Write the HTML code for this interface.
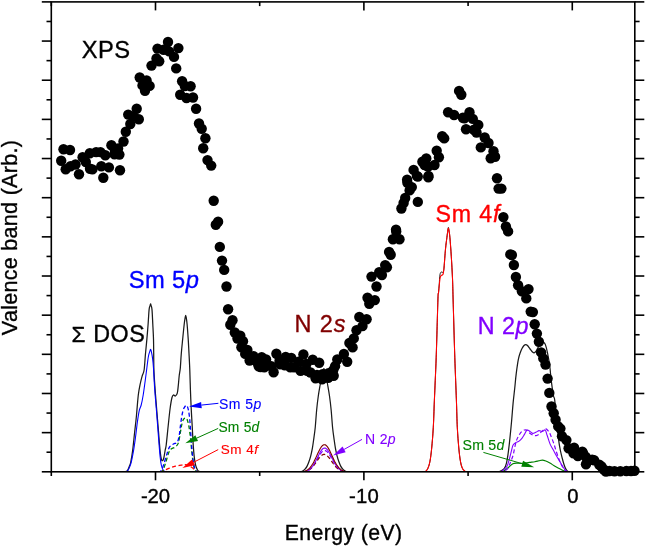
<!DOCTYPE html>
<html><head><meta charset="utf-8"><title>XPS valence band</title>
<style>html,body{margin:0;padding:0;background:#fff;}svg{display:block;will-change:transform;font-family:"Liberation Sans",sans-serif;}</style>
</head><body>
<svg width="645" height="547" viewBox="0 0 645 547" font-family="'Liberation Sans', sans-serif">
<rect width="645" height="547" fill="#fff"/>
<clipPath id="cp"><rect x="0" y="0" width="645" height="471.3"/></clipPath>
<g clip-path="url(#cp)"><path d="M120.00,472.00 C120.67,471.98 122.92,472.02 124.00,471.90 C125.08,471.78 125.87,471.62 126.50,471.30 C127.13,470.98 127.33,470.80 127.80,470.00 C128.27,469.20 128.82,467.78 129.30,466.50 C129.78,465.22 130.15,464.92 130.70,462.30 C131.25,459.68 131.97,455.60 132.60,450.80 C133.23,446.00 133.87,439.27 134.50,433.50 C135.13,427.73 135.77,422.62 136.40,416.20 C137.03,409.78 137.65,400.45 138.30,395.00 C138.95,389.55 139.65,386.70 140.30,383.50 C140.95,380.30 141.57,378.05 142.20,375.80 C142.83,373.55 143.55,373.72 144.10,370.00 C144.65,366.28 145.03,358.68 145.50,353.50 C145.97,348.32 146.47,343.78 146.90,338.90 C147.33,334.02 147.73,329.08 148.10,324.20 C148.47,319.32 148.77,312.70 149.10,309.60 C149.43,306.50 149.85,306.57 150.10,305.60 C150.35,304.63 150.43,303.80 150.60,303.80 C150.77,303.80 150.87,304.63 151.10,305.60 C151.33,306.57 151.72,306.50 152.00,309.60 C152.28,312.70 152.55,319.32 152.80,324.20 C153.05,329.08 153.35,334.10 153.50,338.90 C153.65,343.70 153.63,347.82 153.70,353.00 C153.77,358.18 153.67,363.97 153.90,370.00 C154.13,376.03 154.65,382.78 155.10,389.20 C155.55,395.62 156.03,401.45 156.60,408.50 C157.17,415.55 157.92,424.45 158.50,431.50 C159.08,438.55 159.62,446.15 160.10,450.80 C160.58,455.45 160.98,457.77 161.40,459.40 C161.82,461.03 162.20,460.83 162.60,460.60 C163.00,460.37 163.37,459.77 163.80,458.00 C164.23,456.23 164.80,452.17 165.20,450.00 C165.60,447.83 165.70,449.03 166.20,445.00 C166.70,440.97 167.55,431.88 168.20,425.80 C168.85,419.72 169.47,413.22 170.10,408.50 C170.73,403.78 171.43,399.75 172.00,397.50 C172.57,395.25 172.93,395.25 173.50,395.00 C174.07,394.75 174.77,396.32 175.40,396.00 C176.03,395.68 176.82,394.87 177.30,393.10 C177.78,391.33 177.98,388.28 178.30,385.40 C178.62,382.52 178.87,378.68 179.20,375.80 C179.53,372.92 179.95,371.82 180.30,368.10 C180.65,364.38 180.90,358.37 181.30,353.50 C181.70,348.63 182.22,343.78 182.70,338.90 C183.18,334.02 183.78,327.78 184.20,324.20 C184.62,320.62 184.95,318.87 185.20,317.40 C185.45,315.93 185.53,315.40 185.70,315.40 C185.87,315.40 185.97,315.93 186.20,317.40 C186.43,318.87 186.77,320.62 187.10,324.20 C187.43,327.78 187.88,334.02 188.20,338.90 C188.52,343.78 188.73,348.32 189.00,353.50 C189.27,358.68 189.57,364.05 189.80,370.00 C190.03,375.95 190.17,382.78 190.40,389.20 C190.63,395.62 190.88,402.08 191.20,408.50 C191.52,414.92 191.98,421.93 192.30,427.70 C192.62,433.47 192.78,438.30 193.10,443.10 C193.42,447.90 193.78,452.82 194.20,456.50 C194.62,460.18 195.05,462.95 195.60,465.20 C196.15,467.45 196.87,468.95 197.50,470.00 C198.13,471.05 198.65,471.17 199.40,471.50 C200.15,471.83 200.90,471.92 202.00,472.00 C203.10,472.08 205.33,472.00 206.00,472.00" fill="none" stroke="#1a1a1a" stroke-width="1.25" stroke-linejoin="round"/><path d="M118.00,472.00 C119.00,471.98 122.58,472.00 124.00,471.90 C125.42,471.80 125.87,471.62 126.50,471.40 C127.13,471.18 127.10,471.80 127.80,470.60 C128.50,469.40 129.75,467.50 130.70,464.20 C131.65,460.90 132.70,455.28 133.50,450.80 C134.30,446.32 134.85,442.12 135.50,437.30 C136.15,432.48 136.77,426.38 137.40,421.90 C138.03,417.42 138.67,413.22 139.30,410.40 C139.93,407.58 140.55,407.57 141.20,405.00 C141.85,402.43 142.55,398.92 143.20,395.00 C143.85,391.08 144.53,385.67 145.10,381.50 C145.67,377.33 146.18,373.25 146.60,370.00 C147.02,366.75 147.27,364.42 147.60,362.00 C147.93,359.58 148.20,357.37 148.60,355.50 C149.00,353.63 149.67,351.85 150.00,350.80 C150.33,349.75 150.40,349.20 150.60,349.20 C150.80,349.20 150.88,349.35 151.20,350.80 C151.52,352.25 152.12,355.02 152.50,357.90 C152.88,360.78 153.13,362.88 153.50,368.10 C153.87,373.32 154.18,381.83 154.70,389.20 C155.22,396.57 155.97,404.28 156.60,412.30 C157.23,420.32 157.92,429.93 158.50,437.30 C159.08,444.67 159.62,451.80 160.10,456.50 C160.58,461.20 160.87,463.18 161.40,465.50 C161.93,467.82 162.65,469.40 163.30,470.40 C163.95,471.40 164.52,471.23 165.30,471.50 C166.08,471.77 166.88,471.92 168.00,472.00 C169.12,472.08 171.33,472.00 172.00,472.00" fill="none" stroke="#0000ff" stroke-width="1.1" stroke-linejoin="round"/><path d="M160.00,472.00 C160.63,471.77 162.20,471.25 163.80,470.60 C165.40,469.95 167.67,468.83 169.60,468.10 C171.53,467.37 173.47,466.68 175.40,466.20 C177.33,465.72 179.60,465.47 181.20,465.20 C182.80,464.93 183.73,464.57 185.00,464.60 C186.27,464.63 187.52,464.82 188.80,465.40 C190.08,465.98 191.42,467.13 192.70,468.10 C193.98,469.07 195.45,470.55 196.50,471.20 C197.55,471.85 198.58,471.87 199.00,472.00" fill="none" stroke="#ff0000" stroke-width="1.25" stroke-dasharray="4,2.5" stroke-linejoin="round"/><path d="M160.00,472.00 C160.48,471.75 161.93,472.12 162.90,470.50 C163.87,468.88 164.83,465.27 165.80,462.30 C166.77,459.33 167.75,454.95 168.70,452.70 C169.65,450.45 170.38,449.77 171.50,448.80 C172.62,447.83 174.27,447.85 175.40,446.90 C176.53,445.95 177.50,445.33 178.30,443.10 C179.10,440.87 179.67,436.38 180.20,433.50 C180.73,430.62 181.02,428.05 181.50,425.80 C181.98,423.55 182.52,421.28 183.10,420.00 C183.68,418.72 184.37,418.27 185.00,418.10 C185.63,417.93 186.27,417.72 186.90,419.00 C187.53,420.28 188.22,422.75 188.80,425.80 C189.38,428.85 189.92,433.13 190.40,437.30 C190.88,441.47 191.25,446.63 191.70,450.80 C192.15,454.97 192.62,459.27 193.10,462.30 C193.58,465.33 194.03,467.47 194.60,469.00 C195.17,470.53 195.77,471.00 196.50,471.50 C197.23,472.00 198.58,471.92 199.00,472.00" fill="none" stroke="#008000" stroke-width="1.3" stroke-dasharray="4,2.5" stroke-linejoin="round"/><path d="M158.00,472.00 C158.50,471.80 160.03,472.10 161.00,470.80 C161.97,469.50 162.85,466.90 163.80,464.20 C164.75,461.50 165.73,457.48 166.70,454.60 C167.67,451.72 168.47,448.67 169.60,446.90 C170.73,445.13 172.22,444.80 173.50,444.00 C174.78,443.20 176.35,443.53 177.30,442.10 C178.25,440.67 178.72,437.80 179.20,435.40 C179.68,433.00 179.82,430.58 180.20,427.70 C180.58,424.82 181.02,420.98 181.50,418.10 C181.98,415.22 182.52,412.33 183.10,410.40 C183.68,408.47 184.37,407.30 185.00,406.50 C185.63,405.70 186.32,404.95 186.90,405.60 C187.48,406.25 188.02,408.00 188.50,410.40 C188.98,412.80 189.42,416.15 189.80,420.00 C190.18,423.85 190.48,429.02 190.80,433.50 C191.12,437.98 191.32,442.42 191.70,446.90 C192.08,451.38 192.62,456.87 193.10,460.40 C193.58,463.93 194.03,466.28 194.60,468.10 C195.17,469.92 195.77,470.65 196.50,471.30 C197.23,471.95 198.58,471.88 199.00,472.00" fill="none" stroke="#0000ff" stroke-width="1.3" stroke-dasharray="4,2.5" stroke-linejoin="round"/><path d="M418.00,472.00 C418.83,471.98 421.75,472.00 423.00,471.90 C424.25,471.80 424.70,471.95 425.50,471.40 C426.30,470.85 427.07,470.22 427.80,468.60 C428.53,466.98 429.25,465.13 429.90,461.70 C430.55,458.27 431.13,453.72 431.70,448.00 C432.27,442.28 432.85,435.40 433.30,427.40 C433.75,419.40 433.92,411.63 434.40,400.00 C434.88,388.37 435.62,374.27 436.20,357.60 C436.78,340.93 437.52,310.77 437.90,300.00 C438.28,289.23 438.27,295.75 438.50,293.00 C438.73,290.25 439.10,286.25 439.30,283.50 C439.50,280.75 439.50,278.28 439.70,276.50 C439.90,274.72 440.18,273.55 440.50,272.80 C440.82,272.05 441.25,272.08 441.60,272.00 C441.95,271.92 442.32,272.13 442.60,272.30 C442.88,272.47 443.13,273.22 443.30,273.00 C443.47,272.78 443.47,272.00 443.60,271.00 C443.73,270.00 443.78,270.67 444.10,267.00 C444.42,263.33 445.03,253.92 445.50,249.00 C445.97,244.08 446.50,240.67 446.90,237.50 C447.30,234.33 447.65,231.68 447.90,230.00 C448.15,228.32 448.23,227.40 448.40,227.40 C448.57,227.40 448.65,228.32 448.90,230.00 C449.15,231.68 449.50,233.08 449.90,237.50 C450.30,241.92 450.87,249.67 451.30,256.50 C451.73,263.33 452.20,271.42 452.50,278.50 C452.80,285.58 452.72,285.82 453.10,299.00 C453.48,312.18 454.25,340.77 454.80,357.60 C455.35,374.43 455.98,388.37 456.40,400.00 C456.82,411.63 456.90,419.40 457.30,427.40 C457.70,435.40 458.27,442.28 458.80,448.00 C459.33,453.72 459.88,458.27 460.50,461.70 C461.12,465.13 461.70,466.98 462.50,468.60 C463.30,470.22 464.38,470.85 465.30,471.40 C466.22,471.95 466.72,471.80 468.00,471.90 C469.28,472.00 472.17,471.98 473.00,472.00" fill="none" stroke="#1a1a1a" stroke-width="1.0" stroke-linejoin="round"/><path d="M418.00,472.00 C418.83,471.98 421.75,472.00 423.00,471.90 C424.25,471.80 424.70,471.95 425.50,471.40 C426.30,470.85 427.07,470.22 427.80,468.60 C428.53,466.98 429.25,465.13 429.90,461.70 C430.55,458.27 431.13,453.72 431.70,448.00 C432.27,442.28 432.85,435.40 433.30,427.40 C433.75,419.40 433.92,411.63 434.40,400.00 C434.88,388.37 435.62,374.27 436.20,357.60 C436.78,340.93 437.52,310.77 437.90,300.00 C438.28,289.23 438.25,295.67 438.50,293.00 C438.75,290.33 439.13,286.53 439.40,284.00 C439.67,281.47 439.83,279.18 440.10,277.80 C440.37,276.42 440.63,276.17 441.00,275.70 C441.37,275.23 441.95,275.28 442.30,275.00 C442.65,274.72 442.88,274.67 443.10,274.00 C443.32,273.33 443.43,272.17 443.60,271.00 C443.77,269.83 443.78,270.67 444.10,267.00 C444.42,263.33 445.03,253.92 445.50,249.00 C445.97,244.08 446.50,240.67 446.90,237.50 C447.30,234.33 447.65,231.58 447.90,230.00 C448.15,228.42 448.23,228.00 448.40,228.00 C448.57,228.00 448.65,228.42 448.90,230.00 C449.15,231.58 449.50,233.08 449.90,237.50 C450.30,241.92 450.87,249.67 451.30,256.50 C451.73,263.33 452.20,271.42 452.50,278.50 C452.80,285.58 452.72,285.82 453.10,299.00 C453.48,312.18 454.25,340.77 454.80,357.60 C455.35,374.43 455.98,388.37 456.40,400.00 C456.82,411.63 456.90,419.40 457.30,427.40 C457.70,435.40 458.27,442.28 458.80,448.00 C459.33,453.72 459.88,458.27 460.50,461.70 C461.12,465.13 461.70,466.98 462.50,468.60 C463.30,470.22 464.38,470.85 465.30,471.40 C466.22,471.95 466.72,471.80 468.00,471.90 C469.28,472.00 472.17,471.98 473.00,472.00" fill="none" stroke="#ff0000" stroke-width="1.1" stroke-linejoin="round"/><path d="M298.90,472.00 C299.32,471.93 300.70,471.80 301.40,471.60 C302.10,471.40 302.50,471.20 303.10,470.80 C303.70,470.40 304.33,469.98 305.00,469.20 C305.67,468.42 306.45,467.33 307.10,466.10 C307.75,464.87 308.28,463.55 308.90,461.80 C309.52,460.05 310.22,457.88 310.80,455.60 C311.38,453.32 311.93,450.70 312.40,448.10 C312.87,445.50 313.13,443.40 313.60,440.00 C314.07,436.60 314.69,432.70 315.20,427.70 C315.71,422.70 316.13,415.28 316.65,410.00 C317.17,404.72 317.69,400.33 318.30,396.00 C318.91,391.67 319.67,387.67 320.30,384.00 C320.93,380.33 321.50,376.58 322.10,374.00 C322.70,371.42 323.30,368.50 323.90,368.50 C324.50,368.50 325.10,371.42 325.70,374.00 C326.30,376.58 326.87,380.33 327.50,384.00 C328.13,387.67 328.89,391.67 329.50,396.00 C330.11,400.33 330.63,404.72 331.15,410.00 C331.67,415.28 332.09,422.70 332.60,427.70 C333.11,432.70 333.73,436.60 334.20,440.00 C334.67,443.40 334.93,445.50 335.40,448.10 C335.87,450.70 336.42,453.32 337.00,455.60 C337.58,457.88 338.28,460.05 338.90,461.80 C339.52,463.55 340.05,464.87 340.70,466.10 C341.35,467.33 342.13,468.42 342.80,469.20 C343.47,469.98 344.10,470.40 344.70,470.80 C345.30,471.20 345.70,471.40 346.40,471.60 C347.10,471.80 348.48,471.93 348.90,472.00" fill="none" stroke="#1a1a1a" stroke-width="1.25" stroke-linejoin="round"/><path d="M296.00,471.99 L296.75,471.99 L297.50,471.98 L298.25,471.97 L299.00,471.95 L299.75,471.93 L300.50,471.91 L301.25,471.87 L302.00,471.82 L302.75,471.76 L303.50,471.67 L304.25,471.56 L305.00,471.42 L305.75,471.23 L306.50,471.01 L307.25,470.72 L308.00,470.38 L308.75,469.96 L309.50,469.47 L310.25,468.89 L311.00,468.21 L311.75,467.43 L312.50,466.56 L313.25,465.58 L314.00,464.51 L314.75,463.35 L315.50,462.11 L316.25,460.82 L317.00,459.50 L317.75,458.16 L318.50,456.84 L319.25,455.56 L320.00,454.37 L320.75,453.29 L321.50,452.35 L322.25,451.59 L323.00,451.01 L323.75,450.65 L324.50,450.50 L325.25,450.59 L326.00,450.89 L326.75,451.41 L327.50,452.13 L328.25,453.03 L329.00,454.07 L329.75,455.24 L330.50,456.49 L331.25,457.80 L332.00,459.14 L332.75,460.47 L333.50,461.77 L334.25,463.03 L335.00,464.21 L335.75,465.30 L336.50,466.31 L337.25,467.21 L338.00,468.01 L338.75,468.71 L339.50,469.32 L340.25,469.84 L341.00,470.28 L341.75,470.64 L342.50,470.94 L343.25,471.18 L344.00,471.37 L344.75,471.52 L345.50,471.64 L346.25,471.74 L347.00,471.81 L347.75,471.86 L348.50,471.90 L349.25,471.93 L350.00,471.95 L350.75,471.96 L351.50,471.98 L352.25,471.98 L353.00,471.99" fill="none" stroke="#8000ff" stroke-width="1.2" stroke-dasharray="4,2.5" stroke-linejoin="round"/><path d="M296.00,471.99 L296.75,471.98 L297.50,471.97 L298.25,471.96 L299.00,471.95 L299.75,471.93 L300.50,471.90 L301.25,471.86 L302.00,471.80 L302.75,471.74 L303.50,471.65 L304.25,471.54 L305.00,471.39 L305.75,471.21 L306.50,470.99 L307.25,470.72 L308.00,470.40 L308.75,470.01 L309.50,469.55 L310.25,469.02 L311.00,468.41 L311.75,467.73 L312.50,466.96 L313.25,466.11 L314.00,465.19 L314.75,464.21 L315.50,463.18 L316.25,462.12 L317.00,461.04 L317.75,459.96 L318.50,458.92 L319.25,457.93 L320.00,457.02 L320.75,456.21 L321.50,455.53 L322.25,455.00 L323.00,454.63 L323.75,454.43 L324.50,454.41 L325.25,454.58 L326.00,454.91 L326.75,455.41 L327.50,456.07 L328.25,456.85 L329.00,457.74 L329.75,458.71 L330.50,459.75 L331.25,460.82 L332.00,461.90 L332.75,462.97 L333.50,464.01 L334.25,465.00 L335.00,465.93 L335.75,466.79 L336.50,467.58 L337.25,468.28 L338.00,468.91 L338.75,469.45 L339.50,469.92 L340.25,470.33 L341.00,470.66 L341.75,470.94 L342.50,471.17 L343.25,471.36 L344.00,471.51 L344.75,471.63 L345.50,471.72 L346.25,471.79 L347.00,471.85 L347.75,471.89 L348.50,471.92 L349.25,471.94 L350.00,471.96 L350.75,471.97 L351.50,471.98 L352.25,471.99 L353.00,471.99" fill="none" stroke="#800000" stroke-width="1.2" stroke-dasharray="4,2.5" stroke-linejoin="round"/><path d="M296.00,471.99 L296.75,471.99 L297.50,471.98 L298.25,471.98 L299.00,471.96 L299.75,471.95 L300.50,471.92 L301.25,471.89 L302.00,471.85 L302.75,471.79 L303.50,471.71 L304.25,471.61 L305.00,471.47 L305.75,471.29 L306.50,471.07 L307.25,470.79 L308.00,470.44 L308.75,470.01 L309.50,469.50 L310.25,468.89 L311.00,468.17 L311.75,467.33 L312.50,466.38 L313.25,465.31 L314.00,464.13 L314.75,462.83 L315.50,461.44 L316.25,459.98 L317.00,458.47 L317.75,456.93 L318.50,455.41 L319.25,453.93 L320.00,452.54 L320.75,451.28 L321.50,450.18 L322.25,449.28 L323.00,448.60 L323.75,448.17 L324.50,448.00 L325.25,448.10 L326.00,448.46 L326.75,449.08 L327.50,449.92 L328.25,450.97 L329.00,452.19 L329.75,453.55 L330.50,455.01 L331.25,456.52 L332.00,458.06 L332.75,459.58 L333.50,461.06 L334.25,462.47 L335.00,463.79 L335.75,465.01 L336.50,466.11 L337.25,467.09 L338.00,467.96 L338.75,468.71 L339.50,469.35 L340.25,469.89 L341.00,470.33 L341.75,470.70 L342.50,471.00 L343.25,471.24 L344.00,471.43 L344.75,471.57 L345.50,471.68 L346.25,471.77 L347.00,471.83 L347.75,471.88 L348.50,471.92 L349.25,471.94 L350.00,471.96 L350.75,471.97 L351.50,471.98 L352.25,471.99 L353.00,471.99" fill="none" stroke="#8000ff" stroke-width="1.1" stroke-linejoin="round"/><path d="M296.00,471.98 L296.75,471.97 L297.50,471.96 L298.25,471.94 L299.00,471.91 L299.75,471.88 L300.50,471.83 L301.25,471.77 L302.00,471.68 L302.75,471.58 L303.50,471.44 L304.25,471.26 L305.00,471.04 L305.75,470.76 L306.50,470.42 L307.25,470.00 L308.00,469.50 L308.75,468.90 L309.50,468.21 L310.25,467.40 L311.00,466.47 L311.75,465.42 L312.50,464.25 L313.25,462.96 L314.00,461.56 L314.75,460.07 L315.50,458.50 L316.25,456.87 L317.00,455.22 L317.75,453.57 L318.50,451.97 L319.25,450.43 L320.00,449.02 L320.75,447.75 L321.50,446.67 L322.25,445.80 L323.00,445.17 L323.75,444.80 L324.50,444.70 L325.25,444.87 L326.00,445.31 L326.75,446.01 L327.50,446.94 L328.25,448.07 L329.00,449.38 L329.75,450.83 L330.50,452.39 L331.25,454.01 L332.00,455.66 L332.75,457.31 L333.50,458.92 L334.25,460.48 L335.00,461.94 L335.75,463.31 L336.50,464.57 L337.25,465.71 L338.00,466.73 L338.75,467.62 L339.50,468.40 L340.25,469.07 L341.00,469.64 L341.75,470.12 L342.50,470.52 L343.25,470.84 L344.00,471.10 L344.75,471.31 L345.50,471.48 L346.25,471.61 L347.00,471.71 L347.75,471.79 L348.50,471.84 L349.25,471.89 L350.00,471.92 L350.75,471.94 L351.50,471.96 L352.25,471.97 L353.00,471.98" fill="none" stroke="#800000" stroke-width="1.15" stroke-linejoin="round"/><path d="M494.00,472.00 C494.67,471.98 496.83,472.10 498.00,471.90 C499.17,471.70 499.93,471.38 501.00,470.80 C502.07,470.22 503.50,469.63 504.40,468.40 C505.30,467.17 505.82,465.60 506.40,463.40 C506.98,461.20 507.37,458.90 507.90,455.20 C508.43,451.50 508.98,446.90 509.60,441.20 C510.22,435.50 511.02,427.35 511.60,421.00 C512.18,414.65 512.58,408.52 513.10,403.10 C513.62,397.68 514.18,393.37 514.70,388.50 C515.22,383.63 515.58,378.78 516.20,373.90 C516.82,369.02 517.68,362.85 518.40,359.20 C519.12,355.55 519.90,353.78 520.50,352.00 C521.10,350.22 521.42,349.58 522.00,348.50 C522.58,347.42 523.38,346.15 524.00,345.50 C524.62,344.85 525.12,344.60 525.70,344.60 C526.28,344.60 526.77,344.77 527.50,345.50 C528.23,346.23 529.27,347.92 530.10,349.00 C530.93,350.08 531.77,351.38 532.50,352.00 C533.23,352.62 533.83,352.95 534.50,352.70 C535.17,352.45 535.77,351.62 536.50,350.50 C537.23,349.38 538.07,347.28 538.90,346.00 C539.73,344.72 540.73,343.42 541.50,342.80 C542.27,342.18 542.85,342.00 543.50,342.30 C544.15,342.60 544.72,342.75 545.40,344.60 C546.08,346.45 546.87,349.75 547.60,353.40 C548.33,357.05 549.18,361.87 549.80,366.50 C550.42,371.13 550.68,376.32 551.30,381.20 C551.92,386.08 552.93,392.67 553.50,395.80 C554.07,398.93 554.17,395.87 554.70,400.00 C555.23,404.13 556.02,413.73 556.70,420.60 C557.38,427.47 558.17,436.13 558.80,441.20 C559.43,446.27 559.92,448.12 560.50,451.00 C561.08,453.88 561.72,456.25 562.30,458.50 C562.88,460.75 563.45,462.82 564.00,464.50 C564.55,466.18 565.02,467.48 565.60,468.60 C566.18,469.72 566.77,470.65 567.50,471.20 C568.23,471.75 568.92,471.77 570.00,471.90 C571.08,472.03 573.33,471.98 574.00,472.00" fill="none" stroke="#1a1a1a" stroke-width="1.25" stroke-linejoin="round"/><path d="M498.00,472.00 C498.87,471.88 501.42,472.10 503.20,471.30 C504.98,470.50 507.10,468.45 508.70,467.20 C510.30,465.95 511.42,464.48 512.80,463.80 C514.18,463.12 515.40,463.17 517.00,463.10 C518.60,463.03 520.35,463.52 522.40,463.40 C524.45,463.28 527.23,462.68 529.30,462.40 C531.37,462.12 533.20,461.97 534.80,461.70 C536.40,461.43 537.65,461.07 538.90,460.80 C540.15,460.53 541.15,460.07 542.30,460.10 C543.45,460.13 544.53,460.50 545.80,461.00 C547.07,461.50 548.30,462.18 549.90,463.10 C551.50,464.02 553.58,465.47 555.40,466.50 C557.22,467.53 559.10,468.50 560.80,469.30 C562.50,470.10 564.07,470.85 565.60,471.30 C567.13,471.75 569.27,471.88 570.00,472.00" fill="none" stroke="#008000" stroke-width="1.1" stroke-linejoin="round"/><path d="M499.00,472.00 C499.75,471.88 502.08,471.83 503.50,471.30 C504.92,470.77 506.40,470.15 507.50,468.80 C508.60,467.45 509.17,465.47 510.10,463.20 C511.03,460.93 512.35,457.72 513.10,455.20 C513.85,452.68 514.02,450.62 514.60,448.10 C515.18,445.58 515.85,442.27 516.60,440.10 C517.35,437.93 518.27,436.52 519.10,435.10 C519.93,433.68 520.70,432.45 521.60,431.60 C522.50,430.75 523.52,430.18 524.50,430.00 C525.48,429.82 526.55,429.92 527.50,430.50 C528.45,431.08 529.25,432.73 530.20,433.50 C531.15,434.27 532.20,434.75 533.20,435.10 C534.20,435.45 535.25,435.73 536.20,435.60 C537.15,435.47 537.88,435.08 538.90,434.30 C539.92,433.52 541.15,431.82 542.30,430.90 C543.45,429.98 544.88,428.87 545.80,428.80 C546.72,428.73 547.18,429.88 547.80,430.50 C548.42,431.12 548.88,431.33 549.50,432.50 C550.12,433.67 550.78,435.67 551.50,437.50 C552.22,439.33 553.08,441.42 553.80,443.50 C554.52,445.58 555.02,447.58 555.80,450.00 C556.58,452.42 557.67,455.75 558.50,458.00 C559.33,460.25 560.02,461.83 560.80,463.50 C561.58,465.17 562.33,466.75 563.20,468.00 C564.07,469.25 565.03,470.33 566.00,471.00 C566.97,471.67 568.50,471.83 569.00,472.00" fill="none" stroke="#8000ff" stroke-width="1.2" stroke-dasharray="4,2.5" stroke-linejoin="round"/><path d="M497.00,472.00 C497.67,471.92 500.00,471.78 501.00,471.50 C502.00,471.22 502.00,471.18 503.00,470.30 C504.00,469.42 505.90,468.22 507.00,466.20 C508.10,464.18 508.83,460.87 509.60,458.20 C510.37,455.53 511.02,452.38 511.60,450.20 C512.18,448.02 512.43,446.37 513.10,445.10 C513.77,443.83 514.60,443.27 515.60,442.60 C516.60,441.93 518.02,441.85 519.10,441.10 C520.18,440.35 521.18,439.27 522.10,438.10 C523.02,436.93 523.77,435.43 524.60,434.10 C525.43,432.77 526.17,430.52 527.10,430.10 C528.03,429.68 529.27,431.05 530.20,431.60 C531.13,432.15 531.70,433.32 532.70,433.40 C533.70,433.48 535.15,432.57 536.20,432.10 C537.25,431.63 538.12,430.70 539.00,430.60 C539.88,430.50 540.82,431.42 541.50,431.50 C542.18,431.58 542.47,431.35 543.10,431.10 C543.73,430.85 544.62,429.27 545.30,430.00 C545.98,430.73 546.40,433.15 547.20,435.50 C548.00,437.85 549.10,441.72 550.10,444.10 C551.10,446.48 552.20,447.95 553.20,449.80 C554.20,451.65 554.93,453.13 556.10,455.20 C557.27,457.27 559.02,460.20 560.20,462.20 C561.38,464.20 562.33,465.85 563.20,467.20 C564.07,468.55 564.60,469.55 565.40,470.30 C566.20,471.05 566.90,471.42 568.00,471.70 C569.10,471.98 571.33,471.95 572.00,472.00" fill="none" stroke="#8000ff" stroke-width="1.1" stroke-linejoin="round"/></g>
<g><line x1="218.40" y1="403.30" x2="201.43" y2="405.09" stroke="#0000ff" stroke-width="1"/><polygon points="189.00,406.40 201.10,401.91 201.77,408.27" fill="#0000ff"/><line x1="218.20" y1="428.40" x2="196.69" y2="438.14" stroke="#008000" stroke-width="1"/><polygon points="185.30,443.30 195.37,435.23 198.01,441.06" fill="#008000"/><line x1="218.20" y1="449.60" x2="193.50" y2="462.36" stroke="#ff0000" stroke-width="1"/><polygon points="182.40,468.10 192.04,459.52 194.97,465.20" fill="#ff0000"/><line x1="362.00" y1="439.40" x2="344.11" y2="449.40" stroke="#8000ff" stroke-width="1"/><polygon points="333.20,455.50 342.55,446.61 345.67,452.19" fill="#8000ff"/><line x1="483.40" y1="452.40" x2="522.20" y2="463.70" stroke="#008000" stroke-width="1"/><polygon points="534.20,467.20 521.30,466.78 523.09,460.63" fill="#008000"/></g>
<g><rect x="51.30" y="1.90" width="583.50" height="469.90" fill="none" stroke="#000" stroke-width="1.6"/><line x1="41.80" y1="1.90" x2="51.30" y2="1.90" stroke="#000" stroke-width="1.6"/><line x1="634.80" y1="1.90" x2="644.30" y2="1.90" stroke="#000" stroke-width="1.6"/><line x1="46.50" y1="21.48" x2="51.30" y2="21.48" stroke="#000" stroke-width="1.6"/><line x1="634.80" y1="21.48" x2="639.60" y2="21.48" stroke="#000" stroke-width="1.6"/><line x1="41.80" y1="41.06" x2="51.30" y2="41.06" stroke="#000" stroke-width="1.6"/><line x1="634.80" y1="41.06" x2="644.30" y2="41.06" stroke="#000" stroke-width="1.6"/><line x1="46.50" y1="60.64" x2="51.30" y2="60.64" stroke="#000" stroke-width="1.6"/><line x1="634.80" y1="60.64" x2="639.60" y2="60.64" stroke="#000" stroke-width="1.6"/><line x1="41.80" y1="80.22" x2="51.30" y2="80.22" stroke="#000" stroke-width="1.6"/><line x1="634.80" y1="80.22" x2="644.30" y2="80.22" stroke="#000" stroke-width="1.6"/><line x1="46.50" y1="99.80" x2="51.30" y2="99.80" stroke="#000" stroke-width="1.6"/><line x1="634.80" y1="99.80" x2="639.60" y2="99.80" stroke="#000" stroke-width="1.6"/><line x1="41.80" y1="119.38" x2="51.30" y2="119.38" stroke="#000" stroke-width="1.6"/><line x1="634.80" y1="119.38" x2="644.30" y2="119.38" stroke="#000" stroke-width="1.6"/><line x1="46.50" y1="138.95" x2="51.30" y2="138.95" stroke="#000" stroke-width="1.6"/><line x1="634.80" y1="138.95" x2="639.60" y2="138.95" stroke="#000" stroke-width="1.6"/><line x1="41.80" y1="158.53" x2="51.30" y2="158.53" stroke="#000" stroke-width="1.6"/><line x1="634.80" y1="158.53" x2="644.30" y2="158.53" stroke="#000" stroke-width="1.6"/><line x1="46.50" y1="178.11" x2="51.30" y2="178.11" stroke="#000" stroke-width="1.6"/><line x1="634.80" y1="178.11" x2="639.60" y2="178.11" stroke="#000" stroke-width="1.6"/><line x1="41.80" y1="197.69" x2="51.30" y2="197.69" stroke="#000" stroke-width="1.6"/><line x1="634.80" y1="197.69" x2="644.30" y2="197.69" stroke="#000" stroke-width="1.6"/><line x1="46.50" y1="217.27" x2="51.30" y2="217.27" stroke="#000" stroke-width="1.6"/><line x1="634.80" y1="217.27" x2="639.60" y2="217.27" stroke="#000" stroke-width="1.6"/><line x1="41.80" y1="236.85" x2="51.30" y2="236.85" stroke="#000" stroke-width="1.6"/><line x1="634.80" y1="236.85" x2="644.30" y2="236.85" stroke="#000" stroke-width="1.6"/><line x1="46.50" y1="256.43" x2="51.30" y2="256.43" stroke="#000" stroke-width="1.6"/><line x1="634.80" y1="256.43" x2="639.60" y2="256.43" stroke="#000" stroke-width="1.6"/><line x1="41.80" y1="276.01" x2="51.30" y2="276.01" stroke="#000" stroke-width="1.6"/><line x1="634.80" y1="276.01" x2="644.30" y2="276.01" stroke="#000" stroke-width="1.6"/><line x1="46.50" y1="295.59" x2="51.30" y2="295.59" stroke="#000" stroke-width="1.6"/><line x1="634.80" y1="295.59" x2="639.60" y2="295.59" stroke="#000" stroke-width="1.6"/><line x1="41.80" y1="315.17" x2="51.30" y2="315.17" stroke="#000" stroke-width="1.6"/><line x1="634.80" y1="315.17" x2="644.30" y2="315.17" stroke="#000" stroke-width="1.6"/><line x1="46.50" y1="334.75" x2="51.30" y2="334.75" stroke="#000" stroke-width="1.6"/><line x1="634.80" y1="334.75" x2="639.60" y2="334.75" stroke="#000" stroke-width="1.6"/><line x1="41.80" y1="354.32" x2="51.30" y2="354.32" stroke="#000" stroke-width="1.6"/><line x1="634.80" y1="354.32" x2="644.30" y2="354.32" stroke="#000" stroke-width="1.6"/><line x1="46.50" y1="373.90" x2="51.30" y2="373.90" stroke="#000" stroke-width="1.6"/><line x1="634.80" y1="373.90" x2="639.60" y2="373.90" stroke="#000" stroke-width="1.6"/><line x1="41.80" y1="393.48" x2="51.30" y2="393.48" stroke="#000" stroke-width="1.6"/><line x1="634.80" y1="393.48" x2="644.30" y2="393.48" stroke="#000" stroke-width="1.6"/><line x1="46.50" y1="413.06" x2="51.30" y2="413.06" stroke="#000" stroke-width="1.6"/><line x1="634.80" y1="413.06" x2="639.60" y2="413.06" stroke="#000" stroke-width="1.6"/><line x1="41.80" y1="432.64" x2="51.30" y2="432.64" stroke="#000" stroke-width="1.6"/><line x1="634.80" y1="432.64" x2="644.30" y2="432.64" stroke="#000" stroke-width="1.6"/><line x1="46.50" y1="452.22" x2="51.30" y2="452.22" stroke="#000" stroke-width="1.6"/><line x1="634.80" y1="452.22" x2="639.60" y2="452.22" stroke="#000" stroke-width="1.6"/><line x1="41.80" y1="471.80" x2="51.30" y2="471.80" stroke="#000" stroke-width="1.6"/><line x1="634.80" y1="471.80" x2="644.30" y2="471.80" stroke="#000" stroke-width="1.6"/><line x1="51.30" y1="471.80" x2="51.30" y2="476.00" stroke="#000" stroke-width="1.6"/><line x1="51.30" y1="1.90" x2="51.30" y2="6.10" stroke="#000" stroke-width="1.6"/><line x1="155.50" y1="471.80" x2="155.50" y2="480.30" stroke="#000" stroke-width="1.6"/><line x1="155.50" y1="1.90" x2="155.50" y2="10.40" stroke="#000" stroke-width="1.6"/><line x1="259.69" y1="471.80" x2="259.69" y2="476.00" stroke="#000" stroke-width="1.6"/><line x1="259.69" y1="1.90" x2="259.69" y2="6.10" stroke="#000" stroke-width="1.6"/><line x1="363.89" y1="471.80" x2="363.89" y2="480.30" stroke="#000" stroke-width="1.6"/><line x1="363.89" y1="1.90" x2="363.89" y2="10.40" stroke="#000" stroke-width="1.6"/><line x1="468.09" y1="471.80" x2="468.09" y2="476.00" stroke="#000" stroke-width="1.6"/><line x1="468.09" y1="1.90" x2="468.09" y2="6.10" stroke="#000" stroke-width="1.6"/><line x1="572.28" y1="471.80" x2="572.28" y2="480.30" stroke="#000" stroke-width="1.6"/><line x1="572.28" y1="1.90" x2="572.28" y2="10.40" stroke="#000" stroke-width="1.6"/></g>
<g fill="#000"><circle cx="63.5" cy="149.3" r="5.20"/><circle cx="70.0" cy="150.0" r="5.20"/><circle cx="61.2" cy="160.7" r="5.20"/><circle cx="65.7" cy="169.2" r="5.20"/><circle cx="70.5" cy="166.2" r="5.20"/><circle cx="75.5" cy="164.5" r="5.20"/><circle cx="79.0" cy="174.3" r="5.20"/><circle cx="82.6" cy="157.2" r="5.20"/><circle cx="85.8" cy="162.0" r="5.20"/><circle cx="89.8" cy="153.3" r="5.20"/><circle cx="90.0" cy="168.8" r="5.20"/><circle cx="92.4" cy="169.4" r="5.20"/><circle cx="96.1" cy="152.1" r="5.20"/><circle cx="100.5" cy="152.1" r="5.20"/><circle cx="101.3" cy="166.2" r="5.20"/><circle cx="103.3" cy="177.8" r="5.20"/><circle cx="105.3" cy="155.3" r="5.20"/><circle cx="108.9" cy="167.4" r="5.20"/><circle cx="111.4" cy="145.2" r="5.20"/><circle cx="115.0" cy="151.0" r="5.20"/><circle cx="119.4" cy="154.6" r="5.20"/><circle cx="114.5" cy="154.4" r="5.20"/><circle cx="118.1" cy="148.4" r="5.20"/><circle cx="123.5" cy="141.5" r="5.20"/><circle cx="120.0" cy="170.3" r="5.20"/><circle cx="125.8" cy="131.8" r="5.20"/><circle cx="130.3" cy="124.0" r="5.20"/><circle cx="128.2" cy="114.6" r="5.20"/><circle cx="136.7" cy="108.8" r="5.20"/><circle cx="138.8" cy="119.3" r="5.20"/><circle cx="139.7" cy="77.5" r="5.20"/><circle cx="146.6" cy="80.5" r="5.20"/><circle cx="142.5" cy="85.4" r="5.20"/><circle cx="149.6" cy="85.9" r="5.20"/><circle cx="145.0" cy="90.8" r="5.20"/><circle cx="151.5" cy="65.6" r="5.20"/><circle cx="156.5" cy="58.5" r="5.20"/><circle cx="159.2" cy="61.3" r="5.20"/><circle cx="157.5" cy="48.6" r="5.20"/><circle cx="163.6" cy="49.7" r="5.20"/><circle cx="168.0" cy="42.0" r="5.20"/><circle cx="169.1" cy="51.4" r="5.20"/><circle cx="178.4" cy="48.1" r="5.20"/><circle cx="174.0" cy="56.9" r="5.20"/><circle cx="176.2" cy="68.4" r="5.20"/><circle cx="182.1" cy="81.3" r="5.20"/><circle cx="184.8" cy="86.0" r="5.20"/><circle cx="190.6" cy="86.2" r="5.20"/><circle cx="180.2" cy="94.7" r="5.20"/><circle cx="186.5" cy="98.0" r="5.20"/><circle cx="193.0" cy="97.5" r="5.20"/><circle cx="196.1" cy="108.8" r="5.20"/><circle cx="199.0" cy="123.5" r="5.20"/><circle cx="201.7" cy="128.8" r="5.20"/><circle cx="205.4" cy="138.2" r="5.20"/><circle cx="203.2" cy="148.2" r="5.20"/><circle cx="207.5" cy="160.1" r="5.20"/><circle cx="211.2" cy="165.6" r="5.20"/><circle cx="213.7" cy="200.7" r="5.20"/><circle cx="218.1" cy="221.8" r="5.20"/><circle cx="215.8" cy="224.8" r="5.20"/><circle cx="219.8" cy="246.9" r="5.20"/><circle cx="222.0" cy="260.6" r="5.20"/><circle cx="224.2" cy="269.9" r="5.20"/><circle cx="226.5" cy="286.5" r="5.20"/><circle cx="228.1" cy="309.2" r="5.20"/><circle cx="232.5" cy="320.2" r="5.20"/><circle cx="230.3" cy="324.8" r="5.20"/><circle cx="234.8" cy="332.5" r="5.20"/><circle cx="240.3" cy="335.8" r="5.20"/><circle cx="237.5" cy="338.5" r="5.20"/><circle cx="243.0" cy="341.3" r="5.20"/><circle cx="241.4" cy="347.3" r="5.20"/><circle cx="247.4" cy="350.0" r="5.20"/><circle cx="245.2" cy="353.9" r="5.20"/><circle cx="253.5" cy="356.1" r="5.20"/><circle cx="249.6" cy="360.5" r="5.20"/><circle cx="261.7" cy="357.2" r="5.20"/><circle cx="266.1" cy="359.4" r="5.20"/><circle cx="257.3" cy="362.6" r="5.20"/><circle cx="260.6" cy="367.0" r="5.20"/><circle cx="258.7" cy="366.3" r="5.20"/><circle cx="264.3" cy="367.2" r="5.20"/><circle cx="271.3" cy="366.3" r="5.20"/><circle cx="273.6" cy="372.3" r="5.20"/><circle cx="276.4" cy="353.7" r="5.20"/><circle cx="280.1" cy="364.4" r="5.20"/><circle cx="284.8" cy="365.3" r="5.20"/><circle cx="285.7" cy="357.0" r="5.20"/><circle cx="291.3" cy="357.9" r="5.20"/><circle cx="290.3" cy="367.2" r="5.20"/><circle cx="294.1" cy="367.2" r="5.20"/><circle cx="298.7" cy="361.6" r="5.20"/><circle cx="300.6" cy="370.9" r="5.20"/><circle cx="303.4" cy="354.5" r="5.20"/><circle cx="307.1" cy="370.9" r="5.20"/><circle cx="306.4" cy="364.0" r="5.20"/><circle cx="312.7" cy="359.8" r="5.20"/><circle cx="310.5" cy="372.5" r="5.20"/><circle cx="315.6" cy="378.3" r="5.20"/><circle cx="319.2" cy="362.8" r="5.20"/><circle cx="322.1" cy="379.2" r="5.20"/><circle cx="328.2" cy="377.9" r="5.20"/><circle cx="335.1" cy="366.1" r="5.20"/><circle cx="337.3" cy="359.5" r="5.20"/><circle cx="343.9" cy="354.0" r="5.20"/><circle cx="347.2" cy="361.7" r="5.20"/><circle cx="349.4" cy="343.0" r="5.20"/><circle cx="352.6" cy="347.4" r="5.20"/><circle cx="353.8" cy="338.4" r="5.20"/><circle cx="356.5" cy="330.2" r="5.20"/><circle cx="359.3" cy="317.0" r="5.20"/><circle cx="362.5" cy="326.1" r="5.20"/><circle cx="366.6" cy="319.3" r="5.20"/><circle cx="367.5" cy="297.8" r="5.20"/><circle cx="374.8" cy="300.1" r="5.20"/><circle cx="369.3" cy="303.7" r="5.20"/><circle cx="371.5" cy="276.6" r="5.20"/><circle cx="376.5" cy="286.5" r="5.20"/><circle cx="379.2" cy="272.2" r="5.20"/><circle cx="381.9" cy="275.0" r="5.20"/><circle cx="385.2" cy="265.1" r="5.20"/><circle cx="386.9" cy="267.3" r="5.20"/><circle cx="389.1" cy="251.9" r="5.20"/><circle cx="390.7" cy="254.7" r="5.20"/><circle cx="396.0" cy="229.8" r="5.20"/><circle cx="392.9" cy="239.3" r="5.20"/><circle cx="399.5" cy="239.3" r="5.20"/><circle cx="396.2" cy="231.6" r="5.20"/><circle cx="401.4" cy="208.5" r="5.20"/><circle cx="403.6" cy="203.0" r="5.20"/><circle cx="405.2" cy="198.0" r="5.20"/><circle cx="409.6" cy="190.4" r="5.20"/><circle cx="411.8" cy="187.1" r="5.20"/><circle cx="407.4" cy="182.7" r="5.20"/><circle cx="417.8" cy="201.9" r="5.20"/><circle cx="417.8" cy="176.6" r="5.20"/><circle cx="428.3" cy="177.2" r="5.20"/><circle cx="407.1" cy="179.8" r="5.20"/><circle cx="413.6" cy="169.9" r="5.20"/><circle cx="416.9" cy="175.9" r="5.20"/><circle cx="428.5" cy="175.9" r="5.20"/><circle cx="422.4" cy="161.7" r="5.20"/><circle cx="424.6" cy="165.0" r="5.20"/><circle cx="426.3" cy="158.4" r="5.20"/><circle cx="434.5" cy="165.0" r="5.20"/><circle cx="436.7" cy="150.7" r="5.20"/><circle cx="438.9" cy="157.3" r="5.20"/><circle cx="448.1" cy="112.3" r="5.20"/><circle cx="454.1" cy="115.0" r="5.20"/><circle cx="459.1" cy="90.9" r="5.20"/><circle cx="461.3" cy="94.7" r="5.20"/><circle cx="462.9" cy="117.8" r="5.20"/><circle cx="469.5" cy="112.3" r="5.20"/><circle cx="472.8" cy="118.9" r="5.20"/><circle cx="464.4" cy="118.3" r="5.20"/><circle cx="466.0" cy="129.3" r="5.20"/><circle cx="473.9" cy="129.8" r="5.20"/><circle cx="478.3" cy="124.9" r="5.20"/><circle cx="476.5" cy="132.5" r="5.20"/><circle cx="484.7" cy="137.5" r="5.20"/><circle cx="488.5" cy="143.0" r="5.20"/><circle cx="480.8" cy="147.4" r="5.20"/><circle cx="493.5" cy="151.2" r="5.20"/><circle cx="495.1" cy="156.7" r="5.20"/><circle cx="490.7" cy="158.3" r="5.20"/><circle cx="497.0" cy="178.2" r="5.20"/><circle cx="498.6" cy="188.6" r="5.20"/><circle cx="501.4" cy="188.6" r="5.20"/><circle cx="503.4" cy="217.1" r="5.20"/><circle cx="505.9" cy="226.5" r="5.20"/><circle cx="508.1" cy="231.4" r="5.20"/><circle cx="510.3" cy="254.4" r="5.20"/><circle cx="511.9" cy="255.0" r="5.20"/><circle cx="513.9" cy="265.0" r="5.20"/><circle cx="515.9" cy="277.0" r="5.20"/><circle cx="518.1" cy="285.2" r="5.20"/><circle cx="521.9" cy="291.3" r="5.20"/><circle cx="528.5" cy="289.1" r="5.20"/><circle cx="526.3" cy="298.4" r="5.20"/><circle cx="530.7" cy="311.6" r="5.20"/><circle cx="532.9" cy="312.1" r="5.20"/><circle cx="534.7" cy="324.3" r="5.20"/><circle cx="536.9" cy="333.6" r="5.20"/><circle cx="538.9" cy="341.7" r="5.20"/><circle cx="541.1" cy="352.4" r="5.20"/><circle cx="543.3" cy="358.4" r="5.20"/><circle cx="545.5" cy="364.6" r="5.20"/><circle cx="547.6" cy="378.6" r="5.20"/><circle cx="549.3" cy="392.9" r="5.20"/><circle cx="551.5" cy="406.5" r="5.20"/><circle cx="553.7" cy="413.2" r="5.20"/><circle cx="555.6" cy="419.8" r="5.20"/><circle cx="558.2" cy="426.4" r="5.20"/><circle cx="560.4" cy="428.6" r="5.20"/><circle cx="562.0" cy="436.3" r="5.20"/><circle cx="566.4" cy="440.1" r="5.20"/><circle cx="568.6" cy="448.3" r="5.20"/><circle cx="574.1" cy="447.8" r="5.20"/><circle cx="573.5" cy="453.3" r="5.20"/><circle cx="582.3" cy="451.6" r="5.20"/><circle cx="577.9" cy="456.0" r="5.20"/><circle cx="585.6" cy="456.6" r="5.20"/><circle cx="583.0" cy="453.1" r="5.20"/><circle cx="586.0" cy="464.2" r="5.20"/><circle cx="592.2" cy="459.8" r="5.20"/><circle cx="594.1" cy="460.2" r="5.20"/><circle cx="599.3" cy="464.8" r="5.20"/><circle cx="601.5" cy="466.5" r="5.20"/><circle cx="604.0" cy="469.8" r="5.20"/><circle cx="606.0" cy="471.5" r="5.20"/><circle cx="609.5" cy="471.0" r="5.20"/><circle cx="614.5" cy="471.2" r="5.20"/><circle cx="620.3" cy="471.2" r="5.20"/><circle cx="626.4" cy="471.0" r="5.20"/><circle cx="631.0" cy="471.0" r="5.20"/><circle cx="634.5" cy="470.8" r="5.20"/><circle cx="333.7" cy="375.8" r="5.20"/><circle cx="322.5" cy="374.2" r="5.20"/><circle cx="328.5" cy="373.2" r="5.20"/><circle cx="333.2" cy="370.2" r="5.20"/><circle cx="317.0" cy="375.0" r="5.20"/><circle cx="279.5" cy="361.0" r="5.20"/><circle cx="442.2" cy="136.2" r="5.20"/><circle cx="444.2" cy="138.4" r="5.20"/><circle cx="428.0" cy="166.5" r="5.20"/><circle cx="133.3" cy="116.3" r="5.20"/></g>
<g><text id="xps" x="81.80" y="57.90" font-size="23.70" fill="#000" stroke="#000" stroke-width="0.35" textLength="48.34" lengthAdjust="spacing">XPS</text><text id="sm5pB" x="128.68" y="288.00" font-size="23.70" fill="#0000ff" stroke="#0000ff" stroke-width="0.35" textLength="70.18" lengthAdjust="spacing">Sm 5<tspan font-style="italic">p</tspan></text><text id="dos" x="71.56" y="342.20" font-size="23.30" fill="#000" stroke="#000" stroke-width="0.35" textLength="73.34" lengthAdjust="spacing"><tspan font-size="22.5">&#931;</tspan> DOS</text><text id="n2sB" x="294.52" y="331.70" font-size="23.50" fill="#800000" stroke="#800000" stroke-width="0.35" textLength="50.94" lengthAdjust="spacing">N 2<tspan font-style="italic">s</tspan></text><text id="sm4fB" x="435.52" y="221.90" font-size="23.20" fill="#ff0000" stroke="#ff0000" stroke-width="0.35" textLength="63.94" lengthAdjust="spacing">Sm 4<tspan font-style="italic">f</tspan></text><text id="n2pB" x="477.80" y="334.30" font-size="23.30" fill="#8000ff" stroke="#8000ff" stroke-width="0.35" textLength="50.62" lengthAdjust="spacing">N 2<tspan font-style="italic">p</tspan></text><text id="sm5pS" x="218.88" y="409.20" font-size="14.00" fill="#0000ff" stroke="#0000ff" stroke-width="0.12" textLength="42.42" lengthAdjust="spacing">Sm 5<tspan font-style="italic">p</tspan></text><text id="sm5dS" x="218.40" y="431.60" font-size="13.80" fill="#008000" stroke="#008000" stroke-width="0.12" textLength="40.86" lengthAdjust="spacing">Sm 5<tspan font-style="italic">d</tspan></text><text id="sm4fS" x="220.64" y="453.60" font-size="13.50" fill="#ff0000" stroke="#ff0000" stroke-width="0.12" textLength="37.50" lengthAdjust="spacing">Sm 4<tspan font-style="italic">f</tspan></text><text id="n2pS" x="365.00" y="444.20" font-size="14.00" fill="#8000ff" stroke="#8000ff" stroke-width="0.12" textLength="30.58" lengthAdjust="spacing">N 2<tspan font-style="italic">p</tspan></text><text id="sm5dR" x="462.56" y="449.70" font-size="14.20" fill="#008000" stroke="#008000" stroke-width="0.12" textLength="41.78" lengthAdjust="spacing">Sm 5<tspan font-style="italic">d</tspan></text><text id="t20" x="140.88" y="503.00" font-size="20.30" fill="#000" stroke="#000" stroke-width="0.35" textLength="29.22" lengthAdjust="spacing">-20</text><text id="t10" x="349.12" y="502.90" font-size="20.30" fill="#000" stroke="#000" stroke-width="0.35" textLength="29.66" lengthAdjust="spacing">-10</text><text id="t0" x="567.24" y="502.80" font-size="20.30" fill="#000" stroke="#000" stroke-width="0.35" textLength="3.94" lengthAdjust="spacing">0</text><text id="xlab" x="284.70" y="540.30" font-size="21.20" fill="#000" stroke="#000" stroke-width="0.35" textLength="117.40" lengthAdjust="spacing">Energy (eV)</text><text id="ylab" transform="translate(17.2,335.15) rotate(-90)" x="0" y="0" font-size="21.5" fill="#000" stroke="#000" stroke-width="0.35" textLength="195.05" lengthAdjust="spacing">Valence band (Arb.)</text></g>
</svg>
</body></html>
